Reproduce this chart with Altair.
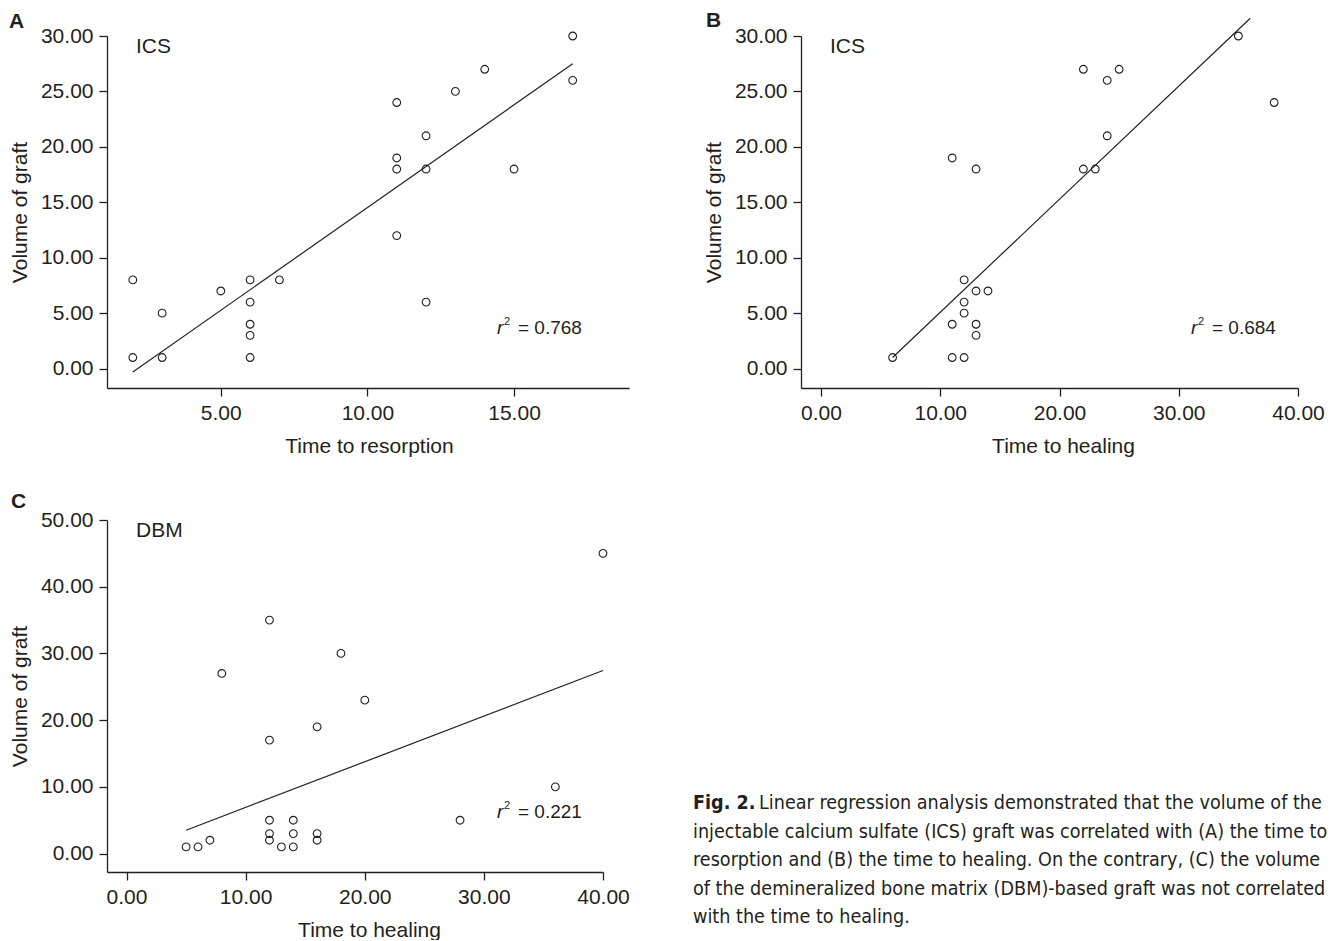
import altair as alt
import pandas as pd

# ---------------- data ----------------
# Panel A: ICS, time to resorption vs volume of graft
a_time = [2, 2, 3, 3, 5, 6, 6, 6, 6, 6, 7, 11, 11, 11, 11, 12, 12, 12, 13, 14, 15, 17, 17]
a_vol = [8, 1, 5, 1, 7, 8, 6, 4, 3, 1, 8, 24, 19, 18, 12, 21, 18, 6, 25, 27, 18, 30, 26]
a_fit_time = [2, 17]
a_fit_vol = [-0.3, 27.5]

# Panel B: ICS, time to healing vs volume of graft
b_time = [6, 11, 11, 11, 12, 12, 12, 12, 13, 13, 13, 13, 14, 22, 22, 23, 24, 24, 25, 35, 38]
b_vol = [1, 19, 4, 1, 8, 6, 5, 1, 18, 7, 4, 3, 7, 27, 18, 18, 26, 21, 27, 30, 24]
b_fit_time = [6, 36]
b_fit_vol = [1.0, 31.6]

# Panel C: DBM, time to healing vs volume of graft
c_time = [5, 6, 7, 8, 12, 12, 12, 12, 12, 13, 14, 14, 14, 16, 16, 16, 18, 20, 28, 36, 40]
c_vol = [1, 1, 2, 27, 35, 17, 5, 3, 2, 1, 5, 3, 1, 19, 3, 2, 30, 23, 5, 10, 45]
c_fit_time = [5, 40]
c_fit_vol = [3.5, 27.45]

panel_letters = ["A", "B", "C"]
group_names = ["ICS", "ICS", "DBM"]
r2_values = ["0.768", "0.684", "0.221"]
x_titles = ["Time to resorption", "Time to healing", "Time to healing"]
y_title = "Volume of graft"

a_xticks = [5, 10, 15]
healing_xticks = [0, 10, 20, 30, 40]
ics_yticks = [0, 5, 10, 15, 20, 25, 30]
dbm_yticks = [0, 10, 20, 30, 40, 50]

caption_lead = "Fig. 2."
caption_lines = [
    "Linear regression analysis demonstrated that the volume of the",
    "injectable calcium sulfate (ICS) graft was correlated with (A) the time to",
    "resorption and (B) the time to healing. On the contrary, (C) the volume",
    "of the demineralized bone matrix (DBM)-based graft was not correlated",
    "with the time to healing.",
]

# ---------------- styling ----------------
FONT = "Liberation Sans, Arial, Helvetica, sans-serif"
COND = "Liberation Sans Narrow, DejaVu Sans Condensed, sans-serif"
INK = "#231f20"


def one(text):
    return pd.DataFrame({"label": [text]})


def panel(times, vols, fit_t, fit_v, xdom, ydom, xticks, yticks, xtitle,
          width, height, letter, letter_pos, group, r2):
    pts = pd.DataFrame({"t": times, "v": vols})
    fit = pd.DataFrame({"t": fit_t, "v": fit_v})
    xs = alt.Scale(domain=xdom, nice=False, zero=False)
    ys = alt.Scale(domain=ydom, nice=False, zero=False)
    xax = alt.Axis(values=xticks, format=".2f", title=xtitle, titleX=262,
                   titleY=47, titleBaseline="top")
    yax = alt.Axis(values=yticks, format=".2f", title=y_title, titleX=-87,
                   titleBaseline="middle")

    points = alt.Chart(pts).mark_point(
        shape="circle", filled=False, size=60, strokeWidth=1.1,
        color=INK, opacity=1
    ).encode(
        x=alt.X("t:Q", scale=xs, axis=xax),
        y=alt.Y("v:Q", scale=ys, axis=yax),
    )
    line = alt.Chart(fit).mark_line(color=INK, strokeWidth=1.2).encode(
        x=alt.X("t:Q", scale=xs),
        y=alt.Y("v:Q", scale=ys),
    )
    grp = alt.Chart(one(group)).mark_text(
        font=FONT, fontSize=21, color=INK, align="left", baseline="alphabetic"
    ).encode(x=alt.value(29), y=alt.value(17), text="label:N")
    let = alt.Chart(one(letter)).mark_text(
        font=FONT, fontSize=21, fontWeight="bold", color=INK, align="left",
        baseline="alphabetic"
    ).encode(x=alt.value(letter_pos[0]), y=alt.value(letter_pos[1]), text="label:N")
    r_it = alt.Chart(one("r")).mark_text(
        font=FONT, fontSize=19, fontStyle="italic", color=INK, align="left",
        baseline="alphabetic"
    ).encode(x=alt.value(390), y=alt.value(298), text="label:N")
    r_sup = alt.Chart(one("2")).mark_text(
        font=FONT, fontSize=11, color=INK, align="left", baseline="alphabetic"
    ).encode(x=alt.value(397), y=alt.value(289), text="label:N")
    r_val = alt.Chart(one("= " + r2)).mark_text(
        font=FONT, fontSize=19, color=INK, align="left", baseline="alphabetic"
    ).encode(x=alt.value(411), y=alt.value(298), text="label:N")

    return alt.layer(points, line, grp, let, r_it, r_sup, r_val).properties(
        width=width, height=height
    )


pA = panel(a_time, a_vol, a_fit_time, a_fit_vol, [1.12, 18.92], [-1.75, 30],
           a_xticks, ics_yticks, x_titles[0], 522, 352, panel_letters[0], (-98, -8),
           group_names[0], r2_values[0])
pB = panel(b_time, b_vol, b_fit_time, b_fit_vol, [-1.68, 40], [-1.75, 30],
           healing_xticks, ics_yticks, x_titles[1], 497, 352, panel_letters[1], (-95, -9),
           group_names[1], r2_values[1])
pC = panel(c_time, c_vol, c_fit_time, c_fit_vol, [-1.64, 40], [-2.76, 50],
           healing_xticks, dbm_yticks, x_titles[2], 496, 352, panel_letters[2], (-96, -12),
           group_names[2], r2_values[2])

# caption panel
CAP_SIZE = 19.6
cap_layers = [
    alt.Chart(one(caption_lead)).mark_text(
        font=COND, fontSize=CAP_SIZE, fontWeight="bold", color=INK, align="left",
        baseline="middle"
    ).encode(x=alt.value(-108), y=alt.value(283), text="label:N")
]
line_y = [283, 312, 340, 369, 397]
for i, txt in enumerate(caption_lines):
    cap_layers.append(
        alt.Chart(one(txt)).mark_text(
            font=COND, fontSize=CAP_SIZE, color=INK, align="left", baseline="middle"
        ).encode(x=alt.value(-42 if i == 0 else -108), y=alt.value(line_y[i]),
                 text="label:N")
    )
pD = alt.layer(*cap_layers).properties(width=497, height=352)

chart = alt.concat(
    pA, pB, pC, pD, columns=2, spacing={"row": 132, "column": 172}, bounds="flush"
).properties(
    padding={"left": 1, "top": 2, "right": 0, "bottom": 0}
).configure_view(stroke=None).configure_axis(
    grid=False,
    domainColor=INK, domainWidth=1.3,
    tickColor=INK, tickWidth=1.3, tickSize=8,
    labelFont=FONT, labelFontSize=21, labelColor=INK, labelPadding=6,
    labelFlush=False, labelOverlap=False,
    titleFont=FONT, titleFontSize=21, titleFontWeight="normal", titleColor=INK,
)

chart.save("out.html", embed_options={"renderer": "svg", "actions": False})
